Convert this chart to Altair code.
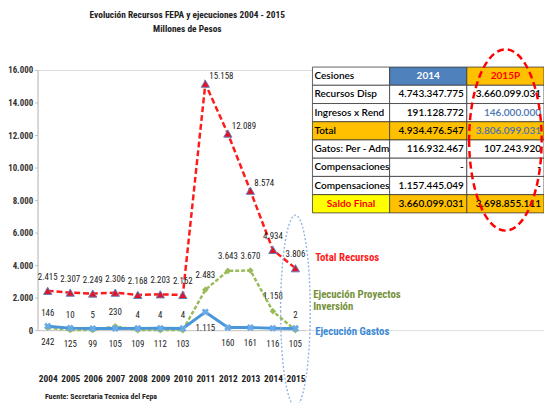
import altair as alt
import pandas as pd

# ---------------- data ----------------
years = [2004, 2005, 2006, 2007, 2008, 2009, 2010, 2011, 2012, 2013, 2014, 2015]
total_recursos = [2415, 2307, 2249, 2306, 2168, 2203, 2162, 15158, 12089, 8574, 4934, 3806]
ejecucion_inversion = [146, 10, 5, 230, 4, 4, 4, 2483, 3643, 3670, 1158, 2]
ejecucion_gastos = [242, 125, 99, 105, 109, 112, 103, 1115, 160, 161, 116, 105]
series_names = ["Total Recursos", "Ejecución Proyectos Inversión", "Ejecución Gastos"]
y_ticks = [0, 2000, 4000, 6000, 8000, 10000, 12000, 14000, 16000]

title_lines = ["Evolución Recursos FEPA y ejecuciones 2004 - 2015", "Millones de Pesos"]
source_text = "Fuente: Secretaria Tecnica del Fepa"

table_columns = ["Cesiones", "2014", "2015P"]
table_rows = ["Recursos Disp", "Ingresos x Rend", "Total", "Gatos: Per - Adm",
              "Compensaciones", "Compensaciones", "Saldo Final"]
values_2014 = ["4.743.347.775", "191.128.772", "4.934.476.547", "116.932.467",
               "-", "1.157.445.049", "3.660.099.031"]
values_2015p = ["3.660.099.031", "146.000.000", "3.806.099.031", "107.243.920",
                "-", "-", "3.698.855.111"]

# ---------------- styles ----------------
FONT = "Liberation Sans Narrow, Arial Narrow, Roboto Condensed, Roboto, sans-serif"
TFONT = "Lato, Carlito, Calibri, sans-serif"
RED = "#FF1A1A"
GREEN = "#9BBB59"
GREEN_TXT = "#76923C"
BLUE = "#4A96DA"
BLUE_TXT = "#3C8AD6"
HDR_BLUE = "#4F81BD"
ORANGE = "#FFC000"
YELLOW = "#FFFF00"

def sdf(name, vals):
    return pd.DataFrame({"year": years, "value": vals, "series": name})

df_total = sdf(series_names[0], total_recursos)
df_inv = sdf(series_names[1], ejecucion_inversion)
df_gas = sdf(series_names[2], ejecucion_gastos)

x_enc = alt.X(
    "year:O",
    scale=alt.Scale(type="point", domain=years, range=[0, 272], padding=0.45),
    axis=alt.Axis(
        title=source_text, titleAnchor="start", titleAlign="left", titleX=7, titleY=69,
        titleBaseline="alphabetic", titleFont=FONT, titleFontSize=8, titleFontWeight="bold",
        titleColor="#222", labelFont=FONT, labelFontSize=9.5, labelColor="#222",
        labelFontWeight="bold", labelPadding=44, ticks=False, domainColor="#c8c8c8",
        labelAngle=0,
    ),
)
y_enc = alt.Y(
    "value:Q",
    scale=alt.Scale(domain=[0, 16000], nice=False),
    axis=alt.Axis(
        values=y_ticks, format=",d", title=None, grid=False, labelFont=FONT,
        labelFontSize=9, labelColor="#333", labelFontWeight="bold", tickSize=3,
        tickColor="#c0c0c0", domainColor="#c0c0c0", labelPadding=2,
    ),
)

def base(df):
    return alt.Chart(df).encode(x=x_enc, y=y_enc)

lab = dict(font=FONT, fontSize=9, color="#1a1a1a")

line_total = base(df_total).mark_line(color=RED, strokeWidth=2.5, strokeDash=[6, 3])
line_inv = base(df_inv).mark_line(color=GREEN, strokeWidth=2.5, strokeDash=[4, 2])
line_gas = base(df_gas).mark_line(color=BLUE, strokeWidth=3)

pts_total = base(df_total).mark_point(shape="triangle-up", filled=True, fill="#E8101E",
                                      stroke="#5B7FC0", strokeWidth=1, size=70, opacity=1)
pts_inv = base(df_inv).mark_point(shape="diamond", filled=True, color=GREEN, size=45, opacity=1)
pts_gas = base(df_gas).mark_point(shape="cross", angle=45, filled=True, color="#6AAAE6",
                                  size=55, opacity=1)

txt_total_a = base(df_total).transform_filter("datum.year < 2011 || datum.year > 2013").mark_text(
    dy=-14, **lab).encode(text=alt.Text("value:Q", format=","))
txt_total_b = base(df_total).transform_filter("datum.year >= 2011 && datum.year <= 2013").mark_text(
    align="left", dx=4, dy=-8, **lab).encode(text=alt.Text("value:Q", format=","))
txt_inv = base(df_inv).mark_text(dy=-15, **lab).encode(text=alt.Text("value:Q", format=","))
txt_gas = base(df_gas).mark_text(dy=16, **lab).encode(text=alt.Text("value:Q", format=","))

ser_total = base(df_total).transform_filter("datum.year == 2015").mark_text(
    align="left", dx=20, dy=-10, font=FONT, fontSize=11, fontWeight="bold", color=RED
).encode(text="series:N")
ser_inv = base(df_inv).transform_filter("datum.year == 2015").transform_calculate(
    lbl="replace(datum.series, 'Proyectos ', 'Proyectos\\n')"
).mark_text(
    align="left", dx=18, dy=-36, lineBreak="\n", lineHeight=13, baseline="middle", font=FONT,
    fontSize=11, fontWeight="bold", color=GREEN_TXT
).encode(text="lbl:N")
ser_gas = base(df_gas).transform_filter("datum.year == 2015").mark_text(
    align="left", dx=20, dy=4, font=FONT, fontSize=11, fontWeight="bold", color=BLUE_TXT
).encode(text="series:N")

blue_ellipse = base(df_gas).transform_filter("datum.year == 2015").mark_point(
    shape="M -0.155 0 A 0.155 1 0 1 0 0.155 0 A 0.155 1 0 1 0 -0.155 0",
    size=37636, filled=False, stroke="#8DB4E2", strokeWidth=1.4, strokeDash=[2, 2],
    yOffset=-18, opacity=1,
)

lines = alt.layer(
    line_inv, line_gas, line_total, pts_inv, pts_gas, pts_total,
    txt_total_a, txt_total_b, txt_inv, txt_gas, ser_total, ser_inv, ser_gas, blue_ellipse,
)

# ---------------- table ----------------
total_idx = table_rows.index("Total") + 1
saldo_idx = table_rows.index("Saldo Final") + 1
ingresos_idx = table_rows.index("Ingresos x Rend") + 1

cells = []
for cname in table_columns:
    cells.append(dict(col=cname, row=0, text=cname))
for ri, rname in enumerate(table_rows, start=1):
    cells.append(dict(col=table_columns[0], row=ri, text=rname))
    cells.append(dict(col=table_columns[1], row=ri, text=values_2014[ri - 1]))
    cells.append(dict(col=table_columns[2], row=ri, text=values_2015p[ri - 1]))

for c in cells:
    fill, color, kind = "#FFFFFF", "#000000", "value"
    if c["col"] == table_columns[0]:
        kind = "label"
    if c["row"] == 0 and c["col"] == "2014":
        fill, color, kind = HDR_BLUE, "#FFFFFF", "center"
    if c["row"] == 0 and c["col"] == "2015P":
        fill, color, kind = ORANGE, "#FF0000", "center"
    if c["row"] == total_idx:
        fill = ORANGE
    if c["row"] == saldo_idx:
        fill = ORANGE
        if c["col"] == table_columns[0]:
            fill, color, kind = YELLOW, "#FF0000", "center"
    if c["col"] == "2015P" and c["row"] in (ingresos_idx, total_idx):
        color = "#4A74B4"
    c.update(fill=fill, tcolor=color, kind=kind)

df_cells = pd.DataFrame(cells)

col_scale = alt.Scale(type="band", domain=table_columns, range=[279, 514],
                      paddingInner=0, paddingOuter=0)
row_scale = alt.Scale(type="band", domain=list(range(len(table_rows) + 1)),
                      range=[-3, 145], paddingInner=0, paddingOuter=0)

def tx(bp=0.5):
    return alt.X("col:N", scale=col_scale, axis=None, bandPosition=bp)

def ty(bp=0.5):
    return alt.Y("row:O", scale=row_scale, axis=None, bandPosition=bp)

tbase = alt.Chart(df_cells)
rects = tbase.mark_rect(stroke="#3a3a3a", strokeWidth=0.8).encode(
    x=alt.X("col:N", scale=col_scale, axis=None),
    y=alt.Y("row:O", scale=row_scale, axis=None),
    fill=alt.Fill("fill:N", scale=None))

tstyle = dict(font=TFONT, fontSize=10.2, baseline="middle")
t_label = tbase.transform_filter("datum.kind == 'label'").mark_text(
    align="left", dx=2, fontWeight=600, **tstyle).encode(
    x=tx(0), y=ty(), text="text:N", color=alt.Color("tcolor:N", scale=None))
t_val = tbase.transform_filter("datum.kind == 'value'").mark_text(
    align="right", dx=-3, fontWeight=600, **tstyle).encode(
    x=tx(1), y=ty(), text="text:N", color=alt.Color("tcolor:N", scale=None))
t_center = tbase.transform_filter("datum.kind == 'center'").mark_text(
    align="center", fontWeight="bold", **tstyle).encode(
    x=tx(), y=ty(), text="text:N", color=alt.Color("tcolor:N", scale=None))

df_focus = pd.DataFrame({"col": ["2015P"], "row": [total_idx]})
red_ellipse = alt.Chart(df_focus).mark_point(
    shape="M -0.40 0 A 0.40 1 0 1 0 0.40 0 A 0.40 1 0 1 0 -0.40 0",
    size=33856, filled=False, stroke="#FF0000", strokeWidth=2.5, strokeDash=[7, 4], opacity=1,
).encode(x=tx(), y=ty(1))

table = alt.layer(rects, t_label, t_val, t_center, red_ellipse)

chart = alt.layer(lines, table).resolve_scale(
    x="independent", y="independent", color="independent", fill="independent"
).properties(
    width=514,
    height=264,
    padding={"left": 30, "top": 60, "right": 0, "bottom": 71},
    autosize=alt.AutoSizeParams(type="none"),
    title=alt.Title(title_lines, anchor="start", align="center", frame="group", dx=152, offset=11,
                    font=FONT, fontSize=9.5, fontWeight="bold", color="#222", lineHeight=14),
).configure_view(stroke=None).configure(
    locale={"number": {"decimal": ",", "thousands": ".", "grouping": [3], "currency": ["$", ""]}}
)

chart.save("out.html", embed_options={"renderer": "svg", "actions": False})
